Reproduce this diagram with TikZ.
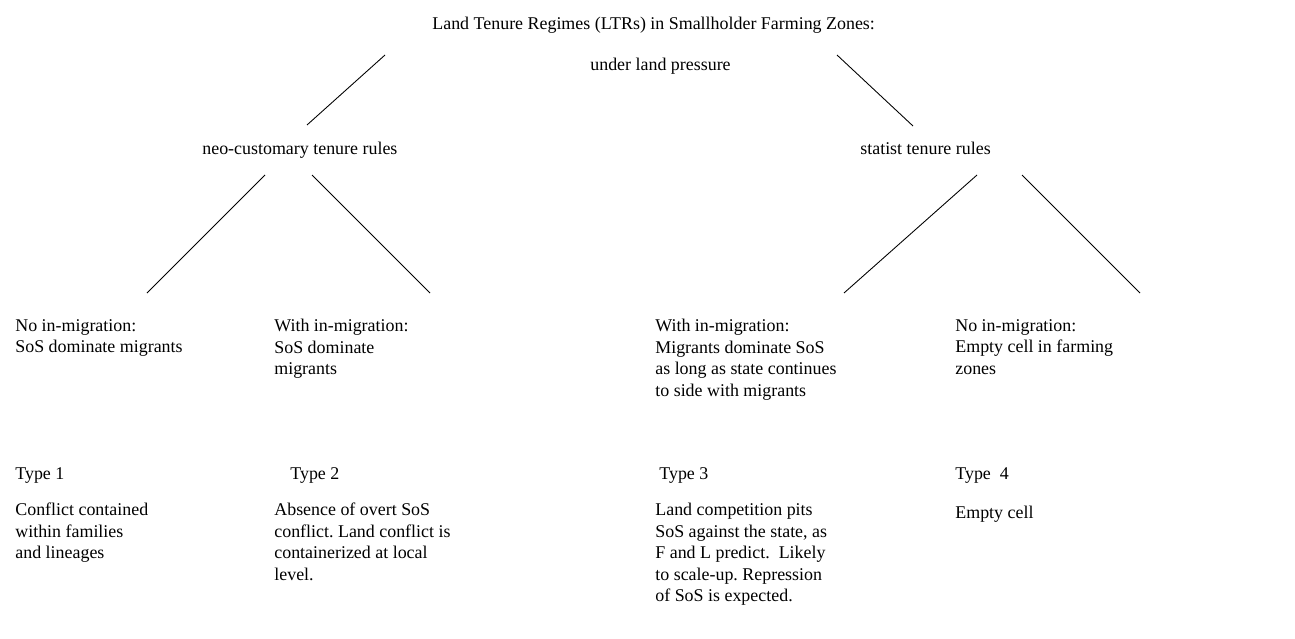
\documentclass[tikz,border=0pt]{standalone}
\usepackage{fontspec}
\setmainfont{Liberation Serif}
\frenchspacing

\begin{document}
\begin{tikzpicture}[x=0.02cm,y=-0.02cm,
  txt/.style={anchor=north west,inner sep=0pt,align=left,font=\fontsize{10.2}{12.2}\selectfont,
    execute at begin node=\strut},
  branch/.style={line width=0.5pt}]
\useasboundingbox (0,0) rectangle (1295,639);
% top of the tree
\node[txt] (title) at (432,14) {Land Tenure Regimes (LTRs) in Smallholder Farming Zones:};
\node[txt] (pressure) at (590,55) {under land pressure};
\node[txt] (neo) at (202,139) {neo-customary tenure rules};
\node[txt] (statist) at (860,139) {statist tenure rules};
% third level
\node[txt] (noneo) at (15,319) {No in-migration:\\SoS dominate migrants};
\node[txt] (withneo) at (274,319) {With in-migration:\\SoS dominate\\migrants};
\node[txt] (withstat) at (655,319) {With in-migration:\\Migrants dominate SoS\\as long as state continues\\to side with migrants};
\node[txt] (nostat) at (955,319) {No in-migration:\\Empty cell in farming\\zones};
% types
\node[txt] (type1) at (15,464) {Type 1};
\node[txt] (type2) at (290,464) {Type 2};
\node[txt] (type3) at (659,464) {Type 3};
\node[txt] (type4) at (955,464) {Type\ \ 4};
\node[txt] (desc1) at (15,503) {Conflict contained\\within families\\and lineages};
\node[txt] (desc2) at (274,503) {Absence of overt SoS\\conflict. Land conflict is\\containerized at local\\level.};
\node[txt] (desc3) at (655,503) {Land competition pits\\SoS against the state, as\\F and L predict.\ \ Likely\\to scale-up. Repression\\of SoS is expected.};
\node[txt] (desc4) at (955,503) {Empty cell};
% branch ends
\coordinate (rootL) at (385,55);
\coordinate (rootR) at (837,55);
\coordinate (neoT) at (307,125);
\coordinate (statT) at (913,126);
\coordinate (neoL) at (265,175);
\coordinate (neoR) at (312,175);
\coordinate (statL) at (977,175);
\coordinate (statR) at (1022,175);
\coordinate (noneoT) at (147,293);
\coordinate (withneoT) at (430,293);
\coordinate (withstatT) at (844,293);
\coordinate (nostatT) at (1140,293);
\draw[branch] (rootL) -- (neoT);
\draw[branch] (rootR) -- (statT);
\draw[branch] (neoL) -- (noneoT);
\draw[branch] (neoR) -- (withneoT);
\draw[branch] (statL) -- (withstatT);
\draw[branch] (statR) -- (nostatT);
\end{tikzpicture}
\end{document}
